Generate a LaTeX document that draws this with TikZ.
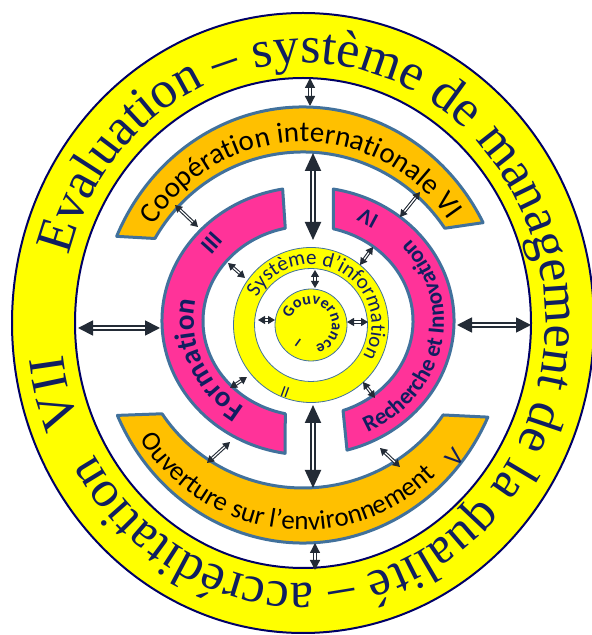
\documentclass[tikz,border=0pt]{standalone}
\usepackage{fontspec}
\setmainfont{Liberation Serif}
\newfontfamily\carlito{Carlito}
\usetikzlibrary{arrows.meta,decorations.text}
\definecolor{ringyellow}{RGB}{255,255,0}
\definecolor{ringnavy}{RGB}{0,0,102}
\definecolor{bandorange}{RGB}{255,192,0}
\definecolor{bandpink}{RGB}{255,51,153}
\definecolor{bandedge}{RGB}{65,113,156}
\definecolor{arrowgrey}{RGB}{35,43,54}
\definecolor{textnavy}{RGB}{16,30,96}

\begin{document}
\begin{tikzpicture}[x=1pt, y=1pt,
    ring/.style={fill=ringyellow, draw=ringnavy, line width=2pt, even odd rule},
    orangeband/.style={fill=bandorange, draw=bandedge, line width=3pt, line join=round},
    pinkband/.style={fill=bandpink, draw=bandedge, line width=3pt, line join=round},
    core/.style={fill=ringyellow, draw=bandedge, line width=0.8pt},
    link/.style={draw=arrowgrey, double=white, line width=1.1pt, double distance=1.2pt,
                 {Triangle[length=7pt,width=8pt]}-{Triangle[length=7pt,width=8pt]}},
    ringlink/.style={link, line width=1.3pt, double distance=1.4pt,
                 {Triangle[length=10pt,width=10pt]}-{Triangle[length=10pt,width=10pt]}},
    sidelink/.style={link, line width=1.8pt, double distance=1.8pt,
                 {Triangle[length=15pt,width=15pt]}-{Triangle[length=15pt,width=15pt]}},
    biglink/.style={link, line width=2pt, double distance=2pt,
                 {Triangle[length=18pt,width=16pt]}-{Triangle[length=18pt,width=16pt]}},
    tag/.style={font=\carlito\bfseries\fontsize{24}{24}\selectfont, text=textnavy, inner sep=0pt}
]
    \useasboundingbox (0,0) rectangle (592,635);

    \coordinate (cRing) at (303,312);
    \coordinate (cBand) at (303,310);
    \coordinate (cPink) at (308,314);
    \coordinate (cIn) at (311,310);

    % rings and bands
    \path[ring] (cRing) ellipse [x radius=291, y radius=310] (cRing) ellipse [x radius=228, y radius=245];

    \path[orangeband] ([shift={(cBand)}]28:204 and 218) arc[start angle=28, end angle=156, x radius=204, y radius=218]
        -- ([shift={(cBand)}]150:171 and 173) arc[start angle=150, end angle=34, x radius=171, y radius=173] -- cycle;
    \path[orangeband] ([shift={(cBand)}]204.5:204 and 218) arc[start angle=204.5, end angle=335, x radius=204, y radius=218]
        -- ([shift={(cBand)}]326.5:168 and 163) arc[start angle=326.5, end angle=213, x radius=168, y radius=163] -- cycle;

    \path[pinkband] ([shift={(cPink)}]100:146 and 134) arc[start angle=100, end angle=261, x radius=146, y radius=134]
        -- ([shift={(cPink)}]257.5:105 and 95) arc[start angle=257.5, end angle=102.5, x radius=105, y radius=95] -- cycle;
    \path[pinkband] ([shift={(cPink)}]80:146 and 134) arc[start angle=80, end angle=-74.5, x radius=146, y radius=134]
        -- ([shift={(cPink)}]-70.5:105 and 95) arc[start angle=-70.5, end angle=76, x radius=105, y radius=95] -- cycle;

    \path[core, even odd rule] (cIn) circle[radius=77.5] (cIn) circle[radius=56.5];
    \path[core] (cIn) circle[radius=36];

    % texts along the rings
    \path[decorate, decoration={text along path,
        text={|\fontsize{52}{52}\selectfont\color{textnavy}|VII}}]
        ([shift={(cRing)}]203:242 and 260) arc[start angle=203, end angle=180, x radius=242, y radius=260];
    \path[decorate, decoration={text along path,
        text={|\fontsize{52}{52}\selectfont\color{textnavy}|Evaluation – système de management de la qualité – accréditation}}]
        ([shift={(cRing)}]165:242 and 260) arc[start angle=165, end angle=-184, x radius=242, y radius=260];

    \path[decorate, decoration={text along path,
        text={|\carlito\fontsize{29}{29}\selectfont|Coopération internationale VI}}]
        ([shift={(cBand)}]147:178 and 183) arc[start angle=147, end angle=20, x radius=178, y radius=183];
    \path[decorate, decoration={text along path, text align={fit to path stretching spaces},
        text={|\carlito\fontsize{27}{27}\selectfont|Ouverture sur l’environnement}}]
        ([shift={(cBand)}]214:197 and 205) arc[start angle=214, end angle=312, x radius=197, y radius=205];

    \path[decorate, decoration={text along path,
        text={|\carlito\bfseries\fontsize{29}{29}\selectfont\color{textnavy}|Formation}}]
        ([shift={(cPink)}]236:114 and 104) arc[start angle=236, end angle=140, x radius=114, y radius=104];
    \path[decorate, decoration={text along path,
        text={|\carlito\bfseries\fontsize{23}{23}\selectfont\color{textnavy}|Recherche et Innovation}}]
        ([shift={(cPink)}]-64:136 and 124) arc[start angle=-64, end angle=62, x radius=136, y radius=124];

    \path[decorate, decoration={text along path,
        text={|\carlito\fontsize{21}{21}\selectfont\color{textnavy}|Système d’information}}]
        ([shift={(cIn)}]153:60.5 and 60.5) arc[start angle=153, end angle=-70, radius=60.5];
    \path[decorate, decoration={text along path,
        text={|\carlito\bfseries\fontsize{16}{16}\selectfont\color{textnavy}|Gouvernance}}]
        ([shift={(cIn)}]163:21 and 21) arc[start angle=163, end angle=-110, radius=21];

    \node[tag, rotate=48] (numIII) at (212,392) {III};
    \node[tag, rotate=152, font=\carlito\bfseries\fontsize{22}{22}\selectfont] (numIV) at (368,417) {IV};
    \node[tag, rotate=50, font=\carlito\fontsize{26}{26}\selectfont] (numV) at (455,178) {V};
    \node[tag, rotate=160, font=\carlito\fontsize{16}{16}\selectfont] (numII) at (285,243) {II};
    \node[tag, rotate=144, font=\carlito\bfseries\fontsize{13}{13}\selectfont] (numI) at (298,292) {I};

    % arrow ends
    \coordinate (ringT) at (310,557);  \coordinate (coopT) at (310,529);
    \coordinate (coopIn) at (313,482); \coordinate (sysT) at (313,395);
    \coordinate (sysIn) at (315,365);  \coordinate (govT) at (315,347);
    \coordinate (sysB) at (313,230);   \coordinate (ouvIn) at (313,147);
    \coordinate (ouvB) at (315,92);    \coordinate (ringB) at (315,65);
    \coordinate (ringL) at (78,307);   \coordinate (formL) at (160,307);
    \coordinate (rechR) at (457,310);  \coordinate (ringR) at (531,310);
    \coordinate (sysL) at (258,315);   \coordinate (govL) at (275,315);
    \coordinate (govR) at (347,313);   \coordinate (sysR) at (368,313);
    \coordinate (coopL) at (175,430);  \coordinate (formT) at (198,408);
    \coordinate (coopR) at (420,443);  \coordinate (rechT) at (400,418);
    \coordinate (formIn) at (228,372); \coordinate (sysUL) at (245,357);
    \coordinate (rechIn) at (373,388); \coordinate (sysUR) at (360,370);
    \coordinate (formLo) at (230,247); \coordinate (sysLL) at (247,258);
    \coordinate (sysLR) at (363,253);  \coordinate (rechLo) at (375,237);
    \coordinate (ouvL) at (207,172);   \coordinate (formB) at (230,193);
    \coordinate (rechB) at (380,187);  \coordinate (ouvR) at (400,168);

    \draw[ringlink] (ringT) -- (coopT);
    \draw[ringlink] (ouvB) -- (ringB);
    \draw[biglink] (coopIn) -- (sysT);
    \draw[biglink] (sysB) -- (ouvIn);
    \draw[sidelink] (ringL) -- (formL);
    \draw[sidelink] (rechR) -- (ringR);
    \draw[link] (sysIn) -- (govT);
    \draw[link] (sysL) -- (govL);
    \draw[link] (govR) -- (sysR);
    \draw[link] (coopL) -- (formT);
    \draw[link] (coopR) -- (rechT);
    \draw[link] (formIn) -- (sysUL);
    \draw[link] (rechIn) -- (sysUR);
    \draw[link] (formLo) -- (sysLL);
    \draw[link] (sysLR) -- (rechLo);
    \draw[link] (ouvL) -- (formB);
    \draw[link] (rechB) -- (ouvR);
\end{tikzpicture}
\end{document}
